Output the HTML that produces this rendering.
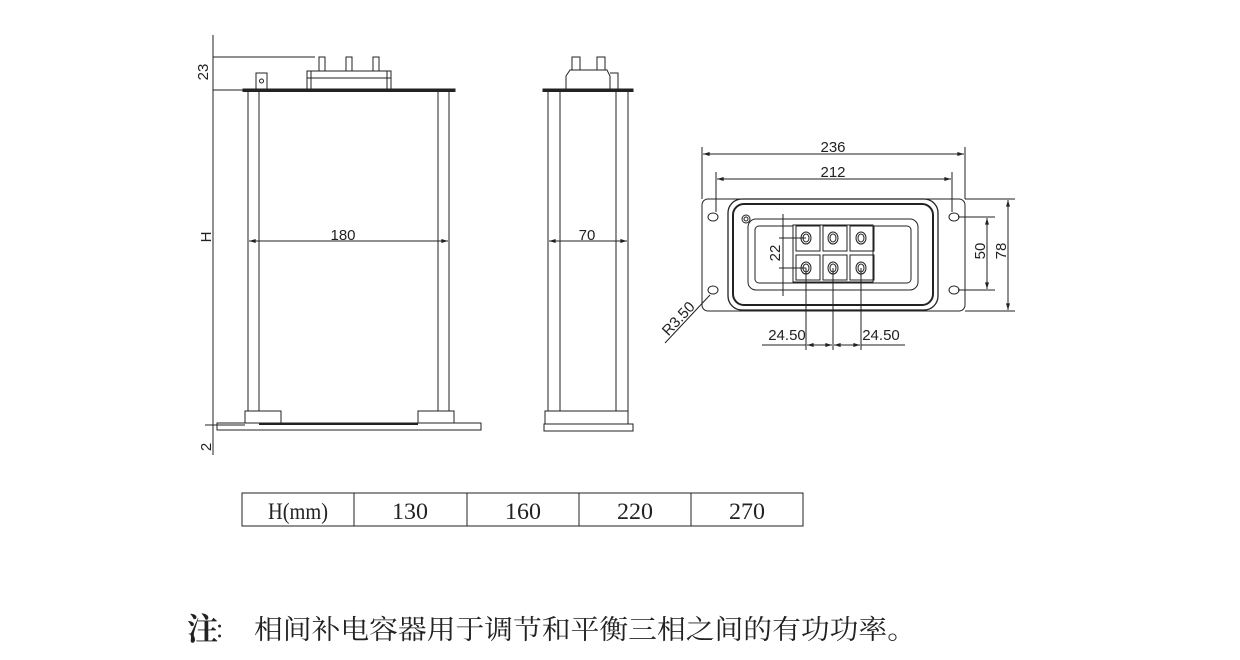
<!DOCTYPE html>
<html><head><meta charset="utf-8"><style>
html,body{margin:0;padding:0;background:#fff;width:1240px;height:660px;overflow:hidden}
svg{display:block}
text{font-family:"Liberation Sans","Noto Sans CJK SC",sans-serif;fill:#222}
.s{font-family:"Liberation Serif","Noto Serif CJK SC",serif}
</style></head><body>
<svg width="1240" height="660" viewBox="0 0 1240 660" xmlns="http://www.w3.org/2000/svg">
<defs><marker id="a" viewBox="0 0 10 6" refX="10" refY="3" markerWidth="8" markerHeight="4" orient="auto-start-reverse"><path d="M0,0L10,3L0,6z" fill="#222"/></marker></defs>
<g stroke="#222" fill="none" stroke-width="1">
<rect x="243" y="89" width="212" height="2.5" fill="#222"/>
<line x1="248" y1="91" x2="248" y2="411"/><line x1="259" y1="91" x2="259" y2="411"/>
<line x1="438" y1="91" x2="438" y2="411"/><line x1="449" y1="91" x2="449" y2="411"/>
<rect x="256" y="73" width="11" height="16" fill="#fff"/><circle cx="261.5" cy="81" r="2"/>
<rect x="307" y="71" width="84" height="18"/><line x1="311" y1="71" x2="311" y2="89"/><line x1="387" y1="71" x2="387" y2="89"/>
<line x1="307" y1="78" x2="391" y2="78"/>
<rect x="319" y="57" width="6" height="14"/><rect x="346" y="57" width="6" height="14"/><rect x="373" y="57" width="6" height="14"/>
<rect x="245" y="411" width="36" height="12"/><rect x="418" y="411" width="36" height="12"/>
<rect x="217" y="423" width="264" height="7"/><line x1="259" y1="424" x2="418" y2="424" stroke-width="2"/>
<line x1="213" y1="35" x2="213" y2="455"/>
<line x1="213" y1="57" x2="315" y2="57"/>
<line x1="213" y1="90" x2="243" y2="90"/>
<line x1="205" y1="425" x2="245" y2="425"/>
<line x1="249" y1="241" x2="448" y2="241" marker-start="url(#a)" marker-end="url(#a)"/>
<rect x="543" y="89" width="90" height="2.5" fill="#222"/>
<line x1="548" y1="91" x2="548" y2="411"/><line x1="560" y1="91" x2="560" y2="411"/>
<line x1="616" y1="91" x2="616" y2="411"/><line x1="628" y1="91" x2="628" y2="411"/>
<path d="M566,89L566,76L570,70L607,70L610,76L610,89"/>
<rect x="572" y="57" width="8" height="13"/><rect x="597" y="57" width="8" height="13"/>
<path d="M610,73L618,73L618,89"/>
<rect x="545" y="411" width="83" height="13"/><rect x="544" y="424" width="89" height="7"/>
<line x1="549" y1="241" x2="627" y2="241" marker-start="url(#a)" marker-end="url(#a)"/>
<rect x="702" y="199" width="263" height="112" rx="6"/>
<rect x="728" y="199" width="210" height="111" rx="14" stroke-width="1.3"/>
<rect x="733" y="204" width="200" height="101" rx="11" stroke-width="2"/>
<rect x="748" y="219" width="170" height="71" rx="8"/>
<rect x="755" y="226" width="156" height="57" rx="4"/>
<circle cx="746" cy="219" r="4"/><circle cx="746" cy="219" r="2"/>
<ellipse cx="713" cy="217" rx="5" ry="4"/><ellipse cx="713" cy="290" rx="5" ry="4"/>
<ellipse cx="954" cy="217" rx="5" ry="4"/><ellipse cx="954" cy="290" rx="5" ry="4"/>
<rect x="793" y="225" width="80" height="57" fill="#fff"/>
<g stroke-width="1">
<rect x="796" y="226" width="24" height="25"/><rect x="823" y="226" width="24" height="25"/><rect x="850" y="226" width="24" height="25"/>
<rect x="796" y="255" width="24" height="25"/><rect x="823" y="255" width="24" height="25"/><rect x="850" y="255" width="24" height="25"/>
<ellipse cx="806" cy="238" rx="5" ry="6"/><ellipse cx="806" cy="238" rx="3" ry="4"/>
<ellipse cx="833" cy="238" rx="5" ry="6"/><ellipse cx="833" cy="238" rx="3" ry="4"/>
<ellipse cx="861" cy="238" rx="5" ry="6"/><ellipse cx="861" cy="238" rx="3" ry="4"/>
<ellipse cx="806" cy="268" rx="5" ry="6"/><ellipse cx="806" cy="268" rx="3" ry="4"/>
<ellipse cx="833" cy="268" rx="5" ry="6"/><ellipse cx="833" cy="268" rx="3" ry="4"/>
<ellipse cx="861" cy="268" rx="5" ry="6"/><ellipse cx="861" cy="268" rx="3" ry="4"/>
</g>
<line x1="702" y1="147" x2="702" y2="199"/><line x1="965" y1="147" x2="965" y2="199"/>
<line x1="703" y1="154" x2="964" y2="154" marker-start="url(#a)" marker-end="url(#a)"/>
<line x1="716" y1="172" x2="716" y2="212"/><line x1="952" y1="172" x2="952" y2="212"/>
<line x1="717" y1="179" x2="951" y2="179" marker-start="url(#a)" marker-end="url(#a)"/>
<line x1="958" y1="217" x2="995" y2="217"/><line x1="958" y1="290" x2="995" y2="290"/>
<line x1="987" y1="218" x2="987" y2="289" marker-start="url(#a)" marker-end="url(#a)"/>
<line x1="965" y1="199" x2="1015" y2="199"/><line x1="965" y1="311" x2="1015" y2="311"/>
<line x1="1008" y1="200" x2="1008" y2="310" marker-start="url(#a)" marker-end="url(#a)"/>
<line x1="779" y1="238" x2="806" y2="238"/><line x1="779" y1="268" x2="806" y2="268"/>
<line x1="783" y1="214" x2="783" y2="296"/>
<line x1="806" y1="268" x2="806" y2="350"/><line x1="833" y1="268" x2="833" y2="350"/><line x1="861" y1="268" x2="861" y2="350"/>
<line x1="762" y1="345" x2="806" y2="345"/><line x1="861" y1="345" x2="905" y2="345"/>
<line x1="807" y1="345" x2="832" y2="345" marker-start="url(#a)" marker-end="url(#a)"/>
<line x1="834" y1="345" x2="860" y2="345" marker-start="url(#a)" marker-end="url(#a)"/>
<line x1="710" y1="295" x2="665" y2="343"/>
<rect x="242" y="493" width="561" height="33"/>
<line x1="354" y1="493" x2="354" y2="526"/><line x1="467" y1="493" x2="467" y2="526"/>
<line x1="579" y1="493" x2="579" y2="526"/><line x1="691" y1="493" x2="691" y2="526"/>
</g>
<g font-size="15">
<text x="208" y="72" transform="rotate(-90 208 72)" text-anchor="middle">23</text>
<text x="211" y="237" transform="rotate(-90 211 237)" text-anchor="middle">H</text>
<text x="211" y="447" transform="rotate(-90 211 447)" text-anchor="middle">2</text>
<text x="343" y="240" text-anchor="middle">180</text>
<text x="587" y="240" text-anchor="middle">70</text>
<text x="833" y="152" text-anchor="middle">236</text>
<text x="833" y="177" text-anchor="middle">212</text>
<text x="985" y="251" transform="rotate(-90 985 251)" text-anchor="middle">50</text>
<text x="1006" y="251" transform="rotate(-90 1006 251)" text-anchor="middle">78</text>
<text x="780" y="253" transform="rotate(-90 780 253)" text-anchor="middle">22</text>
<text x="787" y="340" text-anchor="middle">24.50</text>
<text x="881" y="340" text-anchor="middle">24.50</text>
<text x="682" y="322" transform="rotate(-47 682 322)" text-anchor="middle">R3.50</text>
</g>
<g font-size="23" text-anchor="middle">
<text class="s" x="298" y="519" textLength="60" lengthAdjust="spacingAndGlyphs">H(mm)</text>
<text class="s" x="410" y="519" textLength="36" lengthAdjust="spacingAndGlyphs">130</text>
<text class="s" x="523" y="519" textLength="36" lengthAdjust="spacingAndGlyphs">160</text>
<text class="s" x="635" y="519" textLength="36" lengthAdjust="spacingAndGlyphs">220</text>
<text class="s" x="747" y="519" textLength="36" lengthAdjust="spacingAndGlyphs">270</text>
</g>
<text class="s" x="187" y="640" font-size="31" font-weight="bold">注</text>
<text class="s" x="214" y="638" font-size="24">：</text>
<text class="s" x="254" y="639" font-size="27" textLength="662" lengthAdjust="spacingAndGlyphs">相间补电容器用于调节和平衡三相之间的有功功率。</text>
</svg>
</body></html>
